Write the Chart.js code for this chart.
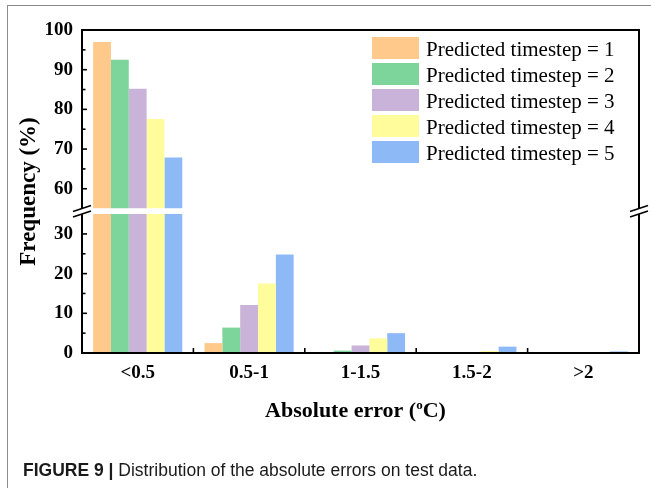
<!DOCTYPE html>
<html><head><meta charset="utf-8">
<script src="https://cdn.jsdelivr.net/npm/chart.js@4"></script>
<style>
html,body{margin:0;padding:0;background:#fff;width:651px;height:488px;overflow:hidden;}
#wrap{position:relative;width:651px;height:488px;}
#frame{position:absolute;left:7px;top:5px;width:700px;height:600px;border-left:1.5px solid #8c8c8c;border-top:1.5px solid #8c8c8c;}
canvas{position:absolute;left:0;top:0;}
#caption{position:absolute;left:23px;top:460px;font-family:'Liberation Sans',Arial,sans-serif;font-size:17.5px;line-height:20px;color:#1a1a1a;white-space:nowrap;}
#caption b{font-weight:bold;}
</style></head>
<body><div id="wrap"><div id="frame"></div><canvas id="c" width="651" height="488"></canvas><div id="caption"><b>FIGURE 9 |</b> Distribution of the absolute errors on test data.</div></div>
<script>
// ---- data ----
const categories = ['<0.5', '0.5-1', '1-1.5', '1.5-2', '>2'];
const seriesLabels = ['Predicted timestep = 1', 'Predicted timestep = 2', 'Predicted timestep = 3', 'Predicted timestep = 4', 'Predicted timestep = 5'];
const timestep1 = [97.0, 2.5, 0.1, 0.0, 0.0];
const timestep2 = [92.5, 6.4, 0.6, 0.0, 0.0];
const timestep3 = [85.2, 12.1, 1.9, 0.1, 0.0];
const timestep4 = [77.6, 17.5, 3.7, 0.5, 0.2];
const timestep5 = [67.9, 24.8, 5.0, 1.6, 0.4];
const lowerRange = [0, 35];
const upperRange = [55, 100];
const majorStep = 10;
const minorStep = 5;
const xTitle = ['Absolute error (', 'o', 'C)'];
const yTitle = 'Frequency (%)';

// ---- style ----
const seriesValues = [timestep1, timestep2, timestep3, timestep4, timestep5];
const colors = ['#FFC98C', '#7ED59B', '#C9B3D8', '#FFFC9C', '#8DB9F6'];
const serif = "'Liberation Serif', 'Times New Roman', serif";
const GAP = 5.5;

const datasets = [];
seriesValues.forEach((vals, i) => {
  datasets.push({ label: seriesLabels[i], data: vals, backgroundColor: colors[i], yAxisID: 'yLow', stack: 's' + i, part: 'low' });
  datasets.push({ label: seriesLabels[i], data: vals, backgroundColor: colors[i], yAxisID: 'yHigh', stack: 's' + i, part: 'high' });
});

const breakAxis = {
  id: 'breakAxis',
  afterLayout(chart) {
    const a = chart.chartArea, hi = chart.scales.yHigh, lo = chart.scales.yLow;
    const spanHi = hi.max - hi.min, spanLo = lo.max - lo.min;
    const avail = a.bottom - a.top - GAP;
    const hHi = avail * spanHi / (spanHi + spanLo);
    hi.top = a.top; hi.bottom = a.top + hHi; hi.height = hHi;
    lo.top = hi.bottom + GAP; lo.bottom = a.bottom; lo.height = lo.bottom - lo.top;
    hi.configure(); lo.configure();
  },
  beforeDatasetDraw(chart, args) {
    const ys = args.meta.yScale, a = chart.chartArea, ctx = chart.ctx;
    ctx.save();
    ctx.beginPath();
    ctx.rect(a.left, ys.top, a.right - a.left, ys.bottom - ys.top);
    ctx.clip();
  },
  afterDatasetDraw(chart) { chart.ctx.restore(); },
  afterDraw(chart) {
    const ctx = chart.ctx, a = chart.chartArea, hi = chart.scales.yHigh, lo = chart.scales.yLow, xs = chart.scales.x;
    const line = (x1, y1, x2, y2) => { ctx.beginPath(); ctx.moveTo(x1, y1); ctx.lineTo(x2, y2); ctx.stroke(); };
    ctx.save();
    ctx.strokeStyle = '#000';
    ctx.lineWidth = 2;
    line(a.left - 1, a.top, a.right + 1, a.top);
    line(a.left - 1, a.bottom, a.right + 1, a.bottom);
    for (const xx of [a.left, a.right]) { line(xx, a.top, xx, hi.bottom); line(xx, lo.top, xx, a.bottom); }
    ctx.lineWidth = 1.6;
    for (const s of [hi, lo]) {
      for (const t of s.ticks) {
        if (s === hi && t.value === s.min) continue;
        if (s === lo && t.value === s.max) continue;
        const py = s.getPixelForValue(t.value);
        const len = (t.value % majorStep === 0) ? 5 : 3.5;
        line(a.left, py, a.left + len, py);
      }
    }
    for (let i = 0; i < categories.length - 1; i++) {
      const px = (xs.getPixelForValue(i) + xs.getPixelForValue(i + 1)) / 2;
      line(px, a.bottom, px, a.bottom - 5);
    }
    ctx.lineWidth = 1.6;
    for (const xx of [a.left, a.right]) for (const yy of [hi.bottom, lo.top]) line(xx - 9, yy + 3, xx + 9, yy - 3);
    ctx.restore();

    // legend
    ctx.save();
    ctx.font = '21px ' + serif;
    ctx.textBaseline = 'alphabetic';
    ctx.textAlign = 'left';
    const sx = a.right - 267, top = a.top + 7;
    chart.data.datasets.filter(d => d.part === 'low').forEach((d, i) => {
      const y = top + i * 26;
      ctx.fillStyle = d.backgroundColor;
      ctx.fillRect(sx, y, 47, 22);
      ctx.fillStyle = '#000';
      ctx.fillText(d.label, sx + 54, y + 19);
    });
    ctx.restore();

    // y title
    ctx.save();
    ctx.font = 'bold 23px ' + serif;
    ctx.fillStyle = '#000';
    ctx.translate(29, (a.top + a.bottom) / 2);
    ctx.rotate(-Math.PI / 2);
    ctx.textAlign = 'center';
    ctx.textBaseline = 'middle';
    ctx.fillText(yTitle, 0, 0);
    ctx.restore();

    // x title with superscript
    ctx.save();
    ctx.fillStyle = '#000';
    ctx.textBaseline = 'alphabetic';
    ctx.textAlign = 'left';
    const big = 'bold 22px ' + serif, small = 'bold 13px ' + serif;
    ctx.font = big; const w1 = ctx.measureText(xTitle[0]).width, w3 = ctx.measureText(xTitle[2]).width;
    ctx.font = small; const w2 = ctx.measureText(xTitle[1]).width;
    let x0 = (a.left + a.right) / 2 - 5 - (w1 + w2 + w3) / 2;
    const base = a.bottom + 64;
    ctx.font = big; ctx.fillText(xTitle[0], x0, base);
    ctx.font = small; ctx.fillText(xTitle[1], x0 + w1, base - 8);
    ctx.font = big; ctx.fillText(xTitle[2], x0 + w1 + w2, base);
    ctx.restore();
  }
};

const tickFont = { family: serif, size: 19, weight: 'bold' };
const labelCb = function (value) { return (value % majorStep === 0) ? String(value) : ''; };

new Chart(document.getElementById('c'), {
  type: 'bar',
  data: { labels: categories, datasets },
  options: {
    responsive: false,
    animation: false,
    layout: { padding: { left: 0, right: 12, top: 30, bottom: 0 } },
    datasets: { bar: { categoryPercentage: 0.8, barPercentage: 1.0 } },
    plugins: { legend: { display: false }, tooltip: { enabled: false } },
    scales: {
      x: {
        type: 'category',
        grid: { display: false, drawTicks: false },
        border: { display: false },
        ticks: { font: tickFont, color: '#000', padding: 9, maxRotation: 0, autoSkip: false },
        afterFit(s) { s.height = 135; }
      },
      yHigh: {
        type: 'linear', position: 'left', stack: 'brk', stackWeight: upperRange[1] - upperRange[0], stacked: false,
        min: upperRange[0], max: upperRange[1],
        grid: { display: false, drawTicks: false },
        border: { display: false },
        ticks: { stepSize: minorStep, autoSkip: false, font: tickFont, color: '#000', padding: 9, callback: labelCb },
        afterFit(s) { s.width = 82; }
      },
      yLow: {
        type: 'linear', position: 'left', stack: 'brk', stackWeight: lowerRange[1] - lowerRange[0], stacked: false,
        min: lowerRange[0], max: lowerRange[1],
        grid: { display: false, drawTicks: false },
        border: { display: false },
        ticks: { stepSize: minorStep, autoSkip: false, font: tickFont, color: '#000', padding: 9, callback: labelCb },
        afterFit(s) { s.width = 82; }
      }
    }
  },
  plugins: [breakAxis]
});
</script>
</body></html>
